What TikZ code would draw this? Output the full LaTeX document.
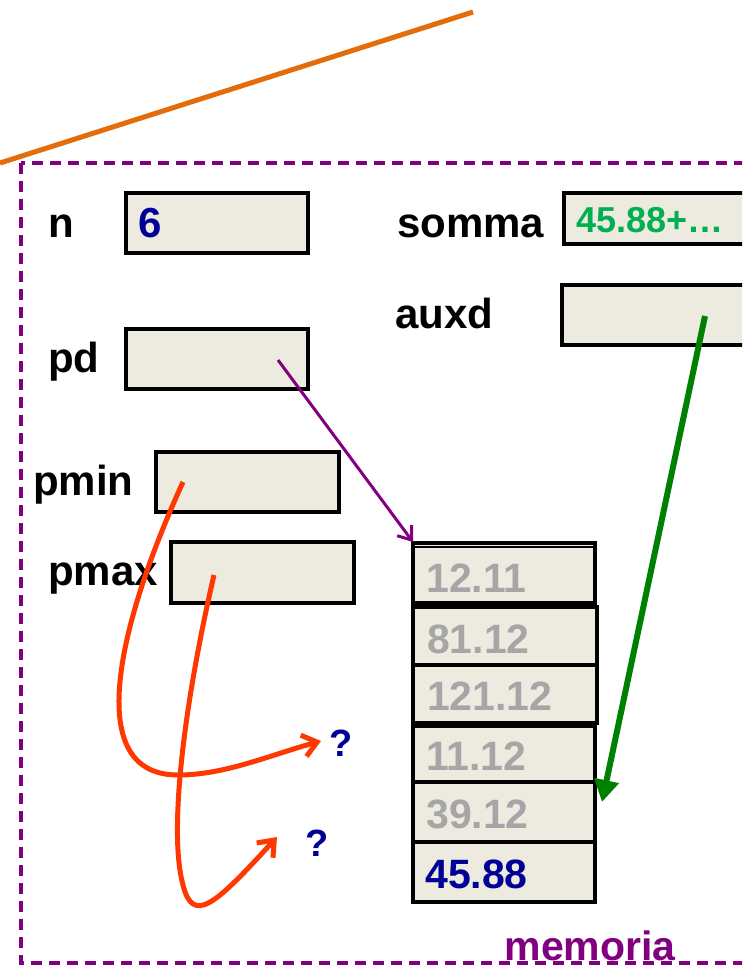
\documentclass[tikz,border=0pt]{standalone}
\usepackage{fontspec}
\setmainfont{Liberation Sans}
\usetikzlibrary{arrows.meta}
\definecolor{boxfill}{RGB}{237,234,224}
\definecolor{vblue}{RGB}{0,0,150}
\definecolor{vgray}{RGB}{166,166,166}
\definecolor{vgreen}{RGB}{0,176,80}
\definecolor{dgreen}{RGB}{0,128,0}
\definecolor{vpurple}{RGB}{128,0,128}
\definecolor{vorange}{RGB}{228,108,10}
\definecolor{vred}{RGB}{255,55,0}
\begin{document}
\begin{tikzpicture}[x=1pt,y=-1pt,
  cell/.style={draw=black,line width=3.5pt,fill=boxfill},
  lbl/.style={anchor=base west,inner sep=0pt,font=\fontsize{42}{42}\selectfont\bfseries},
  val/.style={anchor=base west,inner sep=0pt,font=\fontsize{41}{41}\selectfont\bfseries},
  redarr/.style={draw=vred,line width=5pt,-{Straight Barb[length=14pt,width=22pt,line width=5pt]}}]
\useasboundingbox (0,0) rectangle (742,967);
\clip (0,0) rectangle (742,967);
% orange line
\coordinate (oa) at (0,163);
\coordinate (ob) at (473,12);
\draw[vorange,line width=5pt] (oa) -- (ob);
% memory frame
\draw[vpurple,line width=3.5pt,dash pattern=on 11pt off 7pt] (21,163) rectangle (780,963);
% boxes
\node[cell] (nbox) at (217,223) [minimum width=182pt,minimum height=60pt] {};
\node[cell] (pdbox) at (217,359) [minimum width=182pt,minimum height=60pt] {};
\node[cell] (pminbox) at (247.5,482) [minimum width=183pt,minimum height=60pt] {};
\node[cell] (pmaxbox) at (262.5,572.5) [minimum width=183pt,minimum height=61pt] {};
\node[cell] (sommabox) at (662,218.5) [minimum width=196pt,minimum height=51pt] {};
\node[cell] (auxdbox) at (661,315) [minimum width=198pt,minimum height=60pt] {};
% memory cells
\node[cell] (c1) at (504,573) [minimum width=182pt,minimum height=60pt] {};
\draw[black,line width=2pt] (413,547) -- (595,547);
\node[cell] (c2) at (505,636) [minimum width=184pt,minimum height=58pt] {};
\node[cell] (c3) at (505,694) [minimum width=184pt,minimum height=58pt] {};
\node[cell] (c4) at (504,754) [minimum width=182pt,minimum height=56pt] {};
\node[cell] (c5) at (504,812) [minimum width=182pt,minimum height=60pt] {};
\node[cell] (c6) at (504,872) [minimum width=182pt,minimum height=60pt] {};
% labels
\node[lbl] (ln) at (48,237) {n};
\node[lbl] (lpd) at (48,372) {pd};
\node[lbl] (lpmin) at (33,495) {pmin};
\node[lbl] (lpmax) at (48,585) {pmax};
\node[lbl] (lsomma) at (397,237) {somma};
\node[lbl] (lauxd) at (395,328) {auxd};
% values
\node[val,text=vblue,font=\fontsize{42}{42}\selectfont\bfseries] (v6) at (138,237) {6};
\node[val,text=vgreen,font=\fontsize{36}{36}\selectfont\bfseries] (vsum) at (576,232) {45.88+…};
\node[val,text=vgray] (t1) at (426,592) {12.11};
\node[val,text=vgray] (t2) at (427,653) {81.12};
\node[val,text=vgray] (t3) at (427,710) {121.12};
\node[val,text=vgray] (t4) at (426,770) {11.12};
\node[val,text=vgray] (t5) at (426,828) {39.12};
\node[val,text=vblue] (t6) at (425,888) {45.88};
\node[val,text=vblue,font=\fontsize{38}{38}\selectfont\bfseries] (q1) at (329,756) {?};
\node[val,text=vblue,font=\fontsize{38}{38}\selectfont\bfseries] (q2) at (305,856) {?};
\node[anchor=base,inner sep=0pt,text=vpurple,font=\fontsize{41}{41}\selectfont\bfseries] (mem) at (590,960) {memoria};
% pointer arrows
\coordinate (pds) at (278,360);
\coordinate (pdt) at (413,542);
\draw[vpurple,line width=3pt,-{Straight Barb[length=12pt,width=18pt,line width=3pt]}] (pds) -- (pdt);
\coordinate (axs) at (705,316);
\coordinate (axt) at (602,802);
\draw[dgreen,line width=6pt,-{Triangle[length=22pt,width=24pt]}] (axs) -- (axt);
\coordinate (pmins) at (183,482);
\coordinate (pmint) at (321,741);
\draw[redarr] (pmins) .. controls (120,620) and (80,775) .. (178,775) .. controls (225,775) and (270,755) .. (pmint);
\coordinate (pmaxs) at (214,575);
\coordinate (pmaxt) at (277,837);
\draw[redarr] (pmaxs) .. controls (185,700) and (168,830) .. (183,885) .. controls (193,925) and (215,905) .. (pmaxt);
\end{tikzpicture}
\end{document}
